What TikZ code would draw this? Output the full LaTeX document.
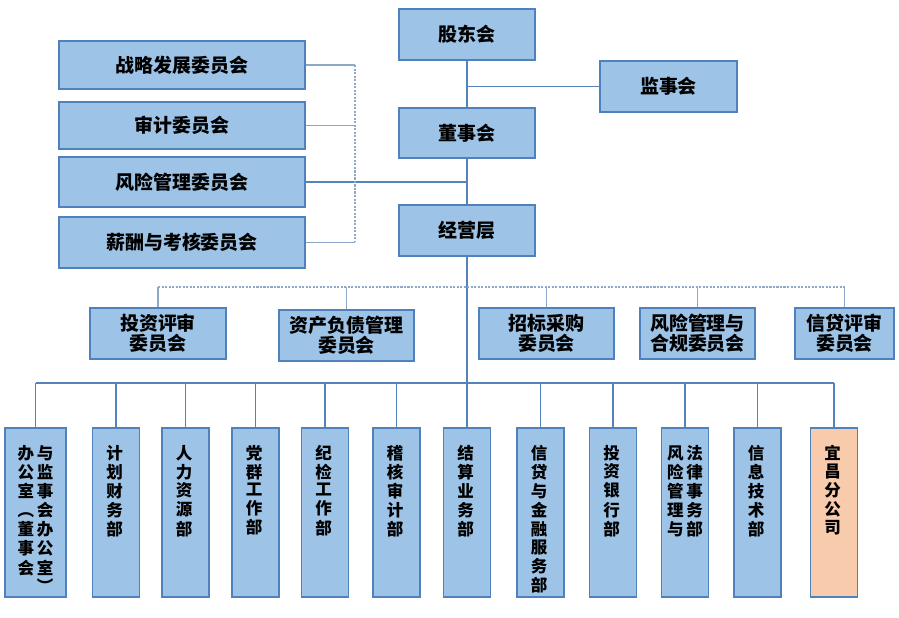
\documentclass[tikz,border=0pt]{standalone}
\usepackage{fontspec}
\setmainfont{Noto Sans CJK SC}
\usetikzlibrary{calc,positioning}

\definecolor{boxblue}{HTML}{9DC3E6}
\definecolor{boxline}{HTML}{4F81BD}
\definecolor{linkblue}{HTML}{5582B8}
\definecolor{linkgrey}{HTML}{8EA9C8}
\definecolor{branchorange}{HTML}{F8CBAD}

% vertical text, columns side by side
\newcommand{\vtxt}[1]{\begin{tabular}[t]{@{}c@{\hspace{1.5pt}}c@{}}#1\end{tabular}}

\begin{document}
\begin{tikzpicture}[x=0.02cm,y=-0.02cm,
    box/.style={draw=boxline,fill=boxblue,line width=0.8pt,inner sep=0pt,align=center,
        font=\fontsize{10.8}{11.6}\selectfont\bfseries},
    dept/.style={draw=boxline,fill=boxblue,line width=0.8pt,inner xsep=0pt,inner ysep=0pt,
        minimum width=0.94cm,text height=0.62cm,text depth=2.76cm,
        font=\fontsize{9.4}{9.4}\selectfont\bfseries},
    link/.style={draw=linkblue,line width=0.6pt},
    sublink/.style={draw=linkgrey,line width=0.7pt},
    dotlink/.style={draw=linkgrey,line width=0.6pt,dash pattern=on 1.2pt off 0.8pt}]

    \useasboundingbox (0,0) rectangle (899,618);

    % top
    \node[box,minimum width=2.72cm,minimum height=1.02cm] (gdh) at (467,34.5) {股东会};
    \node[box,minimum width=2.74cm,minimum height=1.02cm] (jsh) at (668.5,86.5) {监事会};
    \node[box,minimum width=2.72cm,minimum height=1.0cm] (dsh) at (467,133) {董事会};
    \node[box,minimum width=2.72cm,minimum height=1.02cm] (jyc) at (467,230.5) {经营层};

    % board committees
    \node[box,minimum width=4.92cm,minimum height=0.96cm] (zlfz) at (182,65) {战略发展委员会};
    \node[box,minimum width=4.92cm,minimum height=0.94cm] (sj) at (182,125.5) {审计委员会};
    \node[box,minimum width=4.92cm,minimum height=1.0cm] (fxgl) at (182,182) {风险管理委员会};
    \node[box,minimum width=4.92cm,minimum height=1.02cm] (xc) at (182,242.5) {薪酬与考核委员会};

    % management committees
    \node[box,minimum width=2.72cm,minimum height=1.02cm] (tzps) at (158,333.5) {投资评审\\委员会};
    \node[box,minimum width=2.7cm,minimum height=1.02cm] (zcfz) at (346.5,335.5) {资产负债管理\\委员会};
    \node[box,minimum width=2.7cm,minimum height=1.02cm] (zbcg) at (546.5,333.5) {招标采购\\委员会};
    \node[box,minimum width=2.3cm,minimum height=1.02cm] (fxhg) at (697.5,333.5) {风险管理与\\合规委员会};
    \node[box,minimum width=1.98cm,minimum height=1.02cm] (xdps) at (844.5,333.5) {信贷评审\\委员会};

    % departments
    \node[dept,minimum width=1.22cm] (bgs) at (35.5,512.5)
        {\vtxt{办&与\\公&监\\室&事\\︵&会\\董&办\\事&公\\会&室\\&︶}};
    \node[dept] (jhcw) at (116,512.5) {\vtxt{计\\划\\财\\务\\部}};
    \node[dept] (rlzy) at (185.5,512.5) {\vtxt{人\\力\\资\\源\\部}};
    \node[dept] (dqgz) at (255.5,512.5) {\vtxt{党\\群\\工\\作\\部}};
    \node[dept] (jjgz) at (325,512.5) {\vtxt{纪\\检\\工\\作\\部}};
    \node[dept] (jhsj) at (396.5,512.5) {\vtxt{稽\\核\\审\\计\\部}};
    \node[dept] (jsyw) at (467,512.5) {\vtxt{结\\算\\业\\务\\部}};
    \node[dept] (xdjr) at (540.5,512.5) {\vtxt{信\\贷\\与\\金\\融\\服\\务\\部}};
    \node[dept] (tzyh) at (613,512.5) {\vtxt{投\\资\\银\\行\\部}};
    \node[dept] (fxfl) at (685,512.5) {\vtxt{风&法\\险&律\\管&事\\理&务\\与&部}};
    \node[dept] (xxjs) at (757.5,512.5) {\vtxt{信\\息\\技\\术\\部}};
    \node[dept,fill=branchorange] (ycfgs) at (834,512.5) {\vtxt{宜\\昌\\分\\公\\司}};

    % trunk
    \draw[link] (gdh.south) -- (dsh.north);
    \draw[link] (dsh.south) -- (jyc.north);
    \draw[link] (jyc.south) -- (jsyw.north);
    \draw[link] (jsh.west) -- (jsh.west -| gdh.south);
    \draw[link] (fxgl.east) -- (fxgl.east -| dsh.south);

    % bracket of board committees
    \coordinate (brk) at (355,0);
    \foreach \n in {zlfz,sj,xc}
    {
        \draw[sublink] (\n.east) -- (\n.east -| brk);
    };
    \draw[dotlink] (zlfz.east -| brk) -- (xc.east -| brk);

    % management committees
    \coordinate (mbus) at (0,287);
    \draw[dotlink] (tzps.north |- mbus) -- (xdps.north |- mbus);
    \foreach \n in {tzps,zcfz,zbcg,fxhg,xdps}
    {
        \draw[sublink] (\n.north) -- (\n.north |- mbus);
    };

    % departments
    \coordinate (dbus) at (0,383);
    \draw[link] (bgs.north |- dbus) -- (ycfgs.north |- dbus);
    \foreach \n in {bgs,jhcw,rlzy,dqgz,jjgz,jhsj,xdjr,tzyh,fxfl,xxjs,ycfgs}
    {
        \draw[link] (\n.north) -- (\n.north |- dbus);
    };

\end{tikzpicture}
\end{document}
